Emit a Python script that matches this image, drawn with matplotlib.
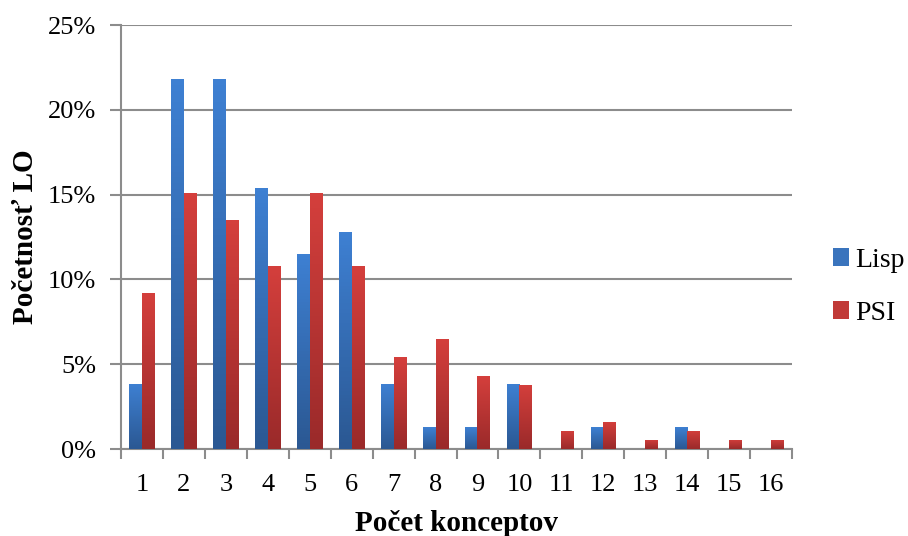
import numpy as np
import matplotlib
matplotlib.use("Agg")
import matplotlib.pyplot as plt
from matplotlib.colors import LinearSegmentedColormap
from matplotlib.patches import Patch
from matplotlib.ticker import FuncFormatter

plt.rcParams['font.family'] = ['Liberation Serif', 'DejaVu Serif']

# Data (percent of LO)
koncepty = [str(i) for i in range(1, 17)]
lisp = [3.85, 21.8, 21.8, 15.4, 11.5, 12.8, 3.85, 1.28, 1.28, 3.85, 0, 1.28, 0, 1.28, 0, 0]
psi = [9.2, 15.1, 13.5, 10.8, 15.1, 10.8, 5.4, 6.5, 4.3, 3.8, 1.08, 1.62, 0.54, 1.08, 0.54, 0.54]

fig = plt.figure(figsize=(9.08, 5.36), dpi=100)
ax = fig.add_axes([121 / 908, 1 - 449 / 536, (792 - 121) / 908, (449 - 25) / 536])

x = np.arange(len(koncepty))
w = 0.3
blue_cm = LinearSegmentedColormap.from_list("b", ["#2b5893", "#3e80d2"])
red_cm = LinearSegmentedColormap.from_list("r", ["#9a2a2a", "#d43f3c"])

grad = np.linspace(0, 1, 64).reshape(-1, 1)
for vals, off, cm, c in [(lisp, -w / 2, blue_cm, "#3a74bd"), (psi, w / 2, red_cm, "#c13a37")]:
    bars = ax.bar(x + off, vals, width=w, color=c, zorder=2)
    for b in bars:
        h = b.get_height()
        if h <= 0:
            continue
        x0 = b.get_x()
        im = ax.imshow(grad, cmap=cm, aspect='auto', origin='lower',
                       extent=(x0, x0 + b.get_width(), 0, h), zorder=3)
        im.set_clip_path(b)

ax.set_xlim(-0.5, len(koncepty) - 0.5)
ax.set_ylim(0, 25)
ax.set_yticks(np.arange(0, 26, 5))
ax.yaxis.set_major_formatter(FuncFormatter(lambda v, p: f"{v:.0f}%"))
ax.grid(axis='y', color='#8c8c8c', linewidth=1.5, zorder=0)
ax.set_axisbelow(True)

ax.set_xticks(x)
ax.set_xticklabels(koncepty)
ax.set_xticks(np.arange(-0.5, len(koncepty)), minor=True)
ax.tick_params(axis='x', which='major', length=0, labelsize=19, pad=18)
ax.tick_params(axis='x', which='minor', length=7, width=1.5, color='#8c8c8c')
ax.tick_params(axis='y', length=8, width=1.5, color='#8c8c8c', labelsize=19, pad=10)

for s in ['top', 'right']:
    ax.spines[s].set_visible(False)
for s in ['left', 'bottom']:
    ax.spines[s].set_color('#8c8c8c')
    ax.spines[s].set_linewidth(1.5)

ax.set_xlabel("Počet konceptov", fontsize=21, fontweight='bold', labelpad=10)
ax.set_ylabel("Početnosť LO", fontsize=21, fontweight='bold', labelpad=6)

handles = [Patch(facecolor="#3a74bd", label="Lisp"), Patch(facecolor="#c13a37", label="PSI")]
fig.legend(handles=handles, loc='center left', bbox_to_anchor=(827 / 908, 1 - 287 / 536),
           frameon=False, fontsize=20, handlelength=0.6, handleheight=0.6,
           handletextpad=0.2, labelspacing=1.0, borderpad=0.2, borderaxespad=0)

fig.savefig("out.png", dpi=100)
